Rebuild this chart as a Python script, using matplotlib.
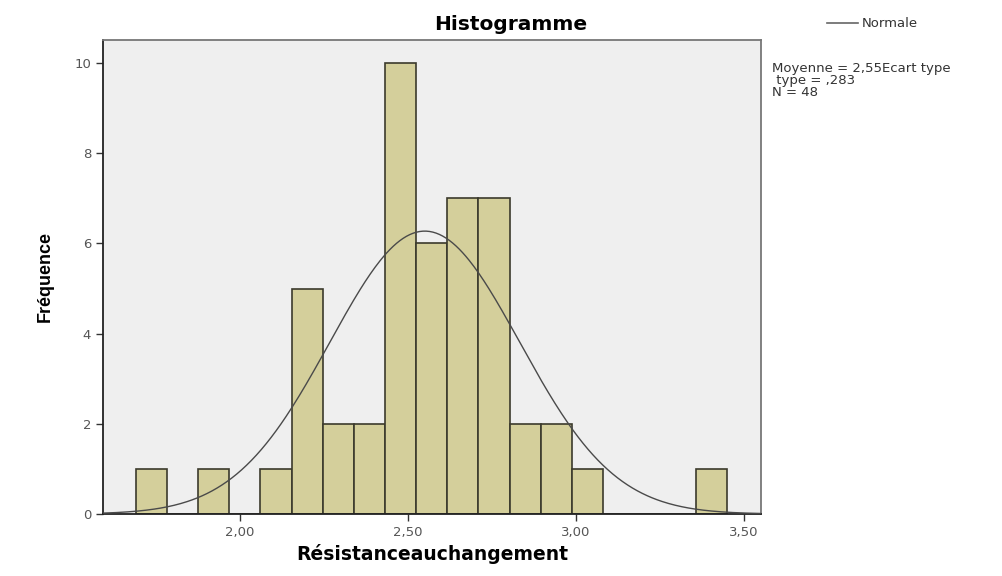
import numpy as np
import matplotlib
matplotlib.use('Agg')
import matplotlib.pyplot as plt

# histogram data
bin_start = 1.690
bin_width = 0.0927
counts = [1, 0, 1, 0, 1, 5, 2, 2, 10, 6, 7, 7, 2, 2, 1, 0, 0, 0, 1]
mean = 2.55
sd = 0.283
n = 48
x_ticks = [2.0, 2.5, 3.0, 3.5]
x_tick_labels = ['2,00', '2,50', '3,00', '3,50']
y_ticks = [0, 2, 4, 6, 8, 10]


def main():
    plt.rcParams['font.family'] = ['DejaVu Sans']

    fig = plt.figure(figsize=(10.03, 5.76), dpi=100)
    ax = fig.add_axes([0.1027, 0.1076, 0.656, 0.823])
    ax.set_facecolor('#efefef')

    edges = bin_start + bin_width * np.arange(len(counts))
    ax.bar(edges, counts, width=bin_width, align='edge',
           color='#d4cf9b', edgecolor='#3b3a2c', linewidth=1.2, zorder=2)

    # fitted normal curve, scaled to counts
    xs = np.linspace(1.592, 3.551, 400)
    ys = n * bin_width / (sd * np.sqrt(2 * np.pi)) * np.exp(-0.5 * ((xs - mean) / sd) ** 2)
    ax.plot(xs, ys, color='#4a4a4a', linewidth=1.0, zorder=3)

    ax.set_xlim(1.592, 3.551)
    ax.set_ylim(0, 10.51)
    ax.set_xticks(x_ticks)
    ax.set_xticklabels(x_tick_labels)
    ax.set_yticks(y_ticks)
    ax.tick_params(axis='both', direction='out', length=5, width=1,
                   labelsize=9.5, labelcolor='#555555', color='#333333')

    for side in ['left', 'bottom']:
        ax.spines[side].set_color('#222222')
        ax.spines[side].set_linewidth(1.3)
    for side in ['top', 'right']:
        ax.spines[side].set_color('#777777')
        ax.spines[side].set_linewidth(1.3)

    ax.set_xlabel('Résistanceauchangement', fontsize=13.5, fontweight='bold', labelpad=4)
    ax.set_ylabel('Fréquence', fontsize=13, fontweight='bold', labelpad=15,
                  family=['Liberation Sans', 'DejaVu Sans'])

    fig.text(0.509, 0.957, 'Histogramme', ha='center', va='center',
             fontsize=14.5, fontweight='bold')

    # legend and statistics box on the right
    fig.add_artist(plt.Line2D([0.825, 0.855], [0.960, 0.960], color='#666666', linewidth=1.2))
    fig.text(0.859, 0.960, 'Normale', ha='left', va='center', fontsize=9.5, color='#333333')
    fig.text(0.770, 0.892, 'Moyenne = 2,55Ecart type\n type = ,283\nN = ' + str(n),
             ha='left', va='top', fontsize=9.5, color='#333333', linespacing=0.9)

    fig.savefig('out.png', dpi=100, facecolor='white')


if __name__ == '__main__':
    main()
